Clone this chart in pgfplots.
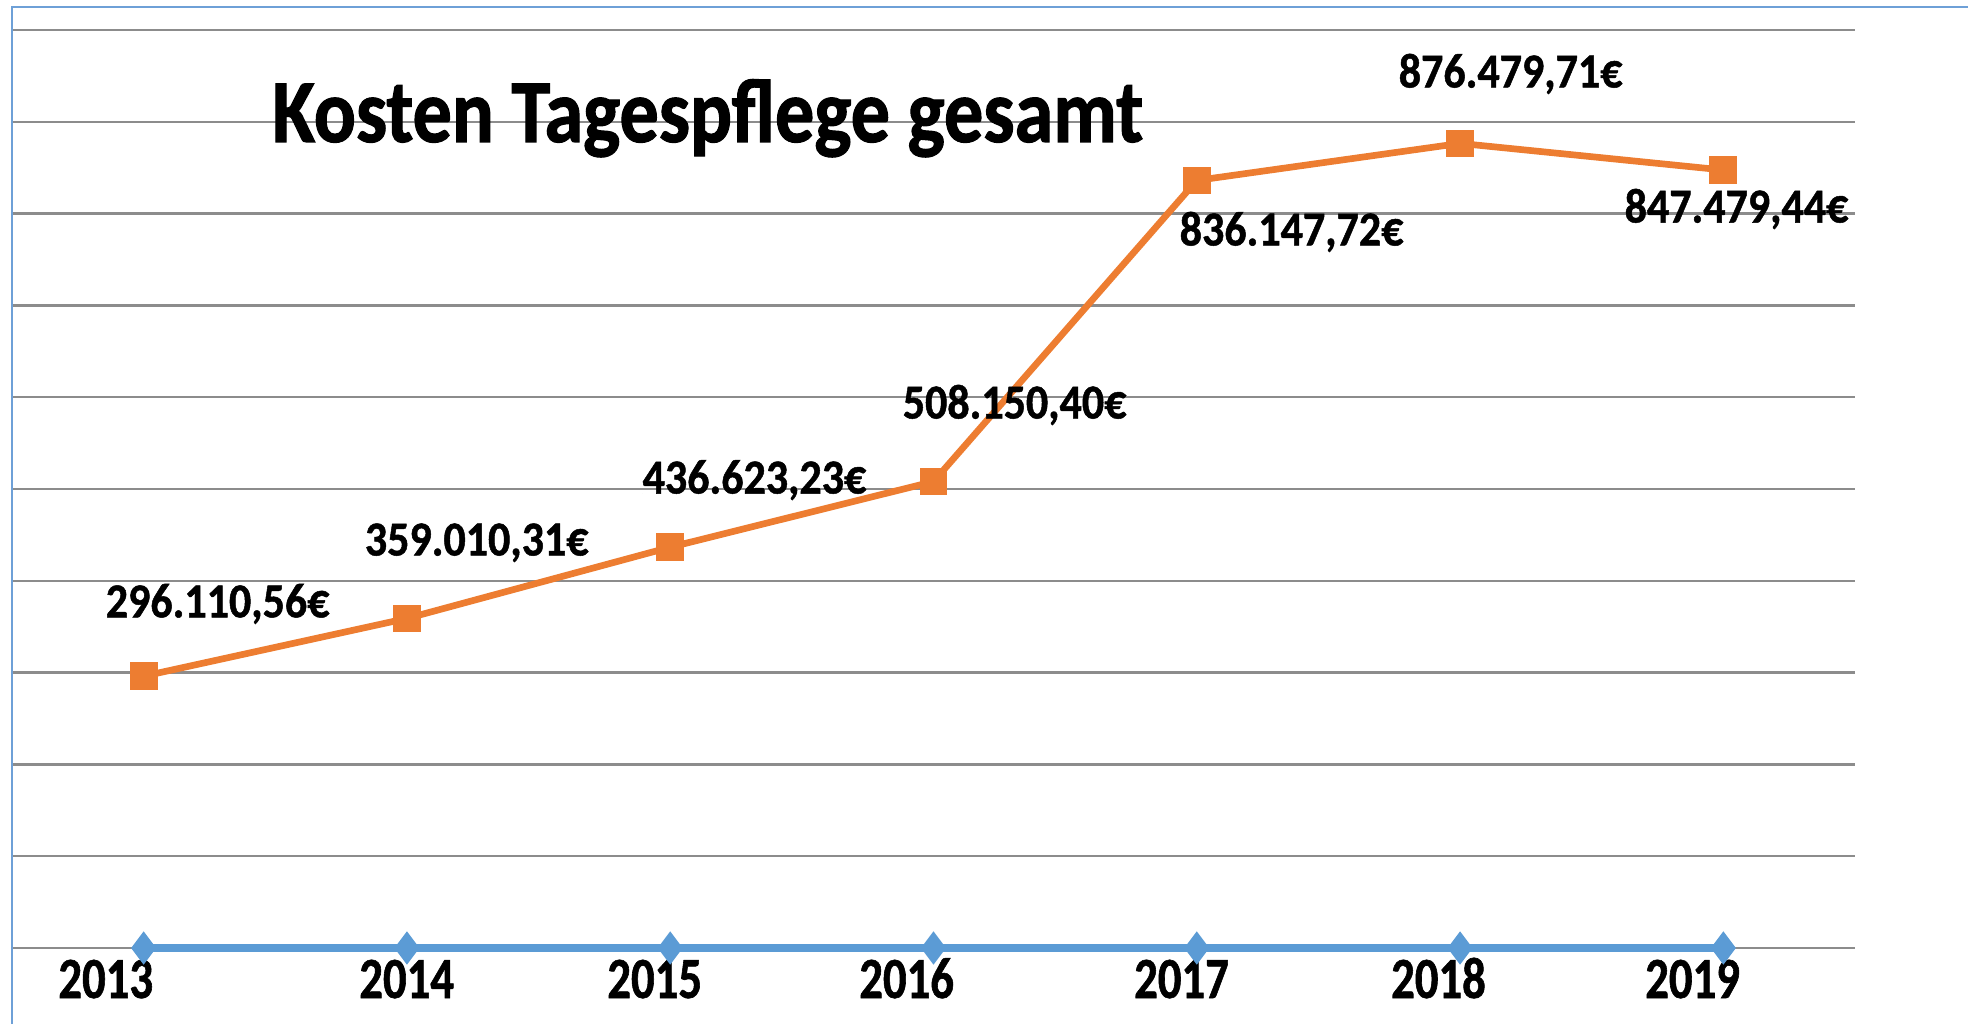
\documentclass[border=0pt]{standalone}
\usepackage{pgfplots}
\pgfplotsset{compat=1.18}
\usepackage{pgfplotstable}
\usepackage{fontspec}
\setmainfont{Carlito}
\newfontfamily\titlefont[FakeStretch=0.87,FakeBold=1.2]{Carlito}
\newfontfamily\labelfont[FakeStretch=0.9,FakeBold=1]{Carlito}
\newfontfamily\tickfont[FakeStretch=0.8,FakeBold=1]{Carlito}
\definecolor{xlorange}{RGB}{237,125,49}
\definecolor{xlblue}{RGB}{91,155,213}
\definecolor{frameblue}{RGB}{110,160,215}

% Kosten Tagespflege gesamt, 2013..2019 at x = 0..6
\pgfplotstableread{
x y
0 296110.56
1 359010.31
2 436623.23
3 508150.40
4 836147.72
5 876479.71
6 847479.44
}\kosten

\begin{document}
\begin{tikzpicture}
\begin{axis}[
 name=ax,at={(0,0)},anchor=south west,
 scale only axis,width=18.43cm,height=9.18cm,
 xmin=-0.5,xmax=6.5,ymin=0,ymax=1000000,
 axis line style={draw=none},
 major tick length=0pt,
 ytick={0,100000,200000,300000,400000,500000,600000,700000,800000,900000,1000000},
 yticklabels={},scaled y ticks=false,
 ymajorgrids=true,grid style={draw=black!45,line width=0.7pt},
 xtick={-0.144,0.999,1.941,2.898,3.942,4.918,5.883},
 xticklabels={2013,2014,2015,2016,2017,2018,2019},
 xticklabel style={anchor=base,yshift=-0.5cm,inner sep=0pt,
   font=\tickfont\bfseries\fontsize{16.6}{17}\selectfont},
 clip=false,
]
\addplot[xlblue,line width=2.1pt,mark=diamond*,mark size=3pt] coordinates {
 (0,0) (1,0) (2,0) (3,0) (4,0) (5,0) (6,0)};
\addplot[xlorange,line width=1.9pt,mark=square*,mark size=3pt] table[x=x,y=y]{\kosten};

\begin{scope}[every node/.style={anchor=base,inner sep=0pt,
   font=\labelfont\bfseries\fontsize{13.9}{14}\selectfont}]
\node at (axis cs:0.281,360200) {296.110,56€};
\node at (axis cs:1.265,427600) {359.010,31€};
\node at (axis cs:2.320,495100) {436.623,23€};
\node at (axis cs:3.308,576800) {508.150,40€};
\node at (axis cs:4.360,765300) {836.147,72€};
\node at (axis cs:5.192,937400) {876.479,71€};
\node at (axis cs:6.050,790300) {847.479,44€};
\end{scope}

\node[anchor=base west,inner sep=0pt,
  font=\titlefont\bfseries\fontsize{25.6}{27}\selectfont]
  at (axis cs:0.486,878000) {Kosten Tagespflege gesamt};
\end{axis}
\draw[frameblue,line width=0.7pt] (0,-0.76) -- (0,9.41) -- (19.56,9.41);
\pgfresetboundingbox
\path[use as bounding box] (-0.12,-0.76) rectangle (19.56,9.48);
\end{tikzpicture}
\end{document}
